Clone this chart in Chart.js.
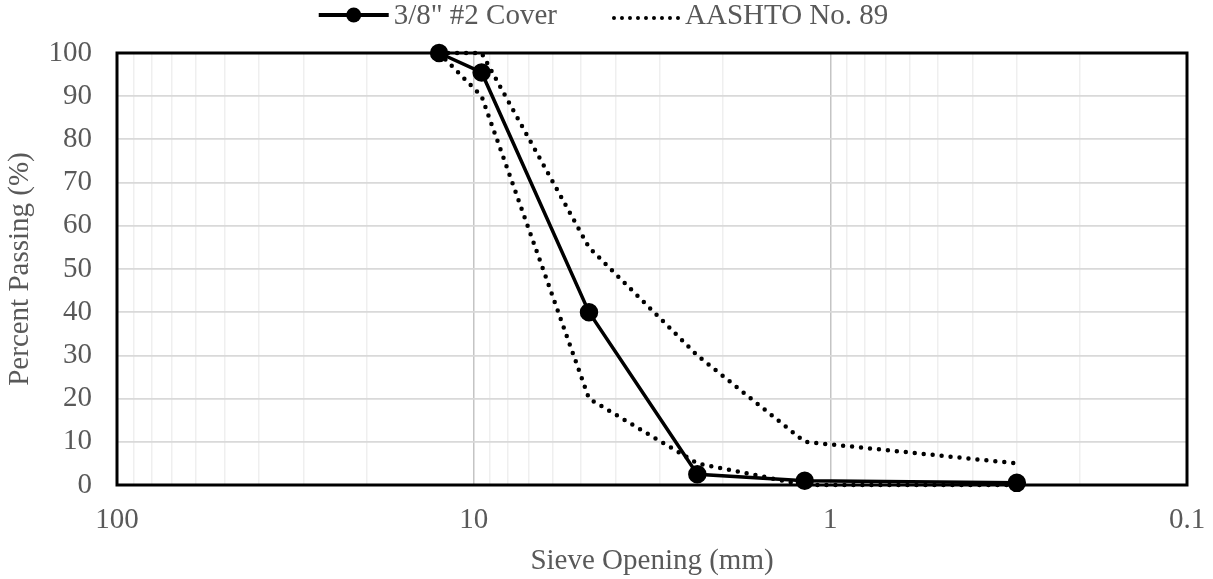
<!DOCTYPE html>
<html>
<head>
<meta charset="utf-8">
<script src="https://cdn.jsdelivr.net/npm/chart.js@4.4.1/dist/chart.umd.min.js"></script>
<style>
html,body{margin:0;padding:0;background:#fff}
#wrap{width:1213px;height:579px}
</style>
</head>
<body>
<div id="wrap"><canvas id="grading" width="1213" height="579"></canvas></div>
<script>
// sieve sizes (mm) and percent passing
const sieveSizes = [12.5, 9.5, 4.75, 2.36, 1.18, 0.3]
const coverPassing = [100, 95.5, 40, 2.5, 1, 0.5]
const specUpper = [100, 100, 55, 30, 10, 5]
const specLower = [100, 90, 20, 5, 0, 0]
const xTickLabels = [100, 10, 1, 0.1]
const yTickLabels = [0, 10, 20, 30, 40, 50, 60, 70, 80, 90, 100]
const legendNames = ["3/8\" #2 Cover", "AASHTO No. 89"]

const textColor = "#595959"
const serif = "'Liberation Serif', 'Times New Roman', serif"
const fontSize = 29

function pts(ys)
{
return sieveSizes.map((x,i)=>({x:x,y:ys[i]}))
}

const isMajor=v=>xTickLabels.some(t=>Math.abs(t-v)<1e-9)

// frame round the plot area
const frame={
id:"frame",
beforeDatasetsDraw(chart)
{
const a=chart.chartArea
const ctx=chart.ctx
ctx.save()
ctx.strokeStyle="#000"
ctx.lineWidth=3
ctx.strokeRect(a.left,a.top,a.right-a.left,a.bottom-a.top)
ctx.restore()
}
}

// legend row across the top: solid line with dot, then dotted line
const legendRow={
id:"legendRow",
afterDraw(chart)
{
const ctx=chart.ctx
ctx.save()
ctx.font=fontSize+"px "+serif
const w1=ctx.measureText(legendNames[0]).width
const w2=ctx.measureText(legendNames[1]).width
const total=70+5+w1+55+70+3+w2
let x=chart.width/2-total/2-3
const y=15

ctx.strokeStyle="#000"
ctx.fillStyle="#000"
ctx.lineWidth=4
ctx.beginPath()
ctx.moveTo(x,y)
ctx.lineTo(x+70,y)
ctx.stroke()
ctx.beginPath()
ctx.arc(x+35,y,7.5,0,Math.PI*2)
ctx.fill()

ctx.fillStyle=textColor
ctx.textBaseline="middle"
ctx.fillText(legendNames[0],x+75,y+1)

x+=75+w1+55
ctx.lineWidth=4
ctx.lineCap="round"
ctx.setLineDash([0,8])
ctx.beginPath()
ctx.moveTo(x+2,y+3)
ctx.lineTo(x+70,y+3)
ctx.stroke()
ctx.setLineDash([])

ctx.fillText(legendNames[1],x+73,y+1)
ctx.restore()
}
}

const dotted={
borderColor:"#000",
borderWidth:4.5,
borderDash:[0,9],
borderCapStyle:"round",
pointRadius:0,
fill:false,
tension:0,
clip:false
}

new Chart(document.getElementById("grading"),
{
type:"line",
data:
{
datasets:[
{
label:legendNames[0],
data:pts(coverPassing),
borderColor:"#000",
backgroundColor:"#000",
borderWidth:3.5,
pointRadius:7.5,
pointHoverRadius:7.5,
pointBackgroundColor:"#000",
pointBorderColor:"#000",
tension:0,
clip:false
},
Object.assign({label:legendNames[1],data:pts(specUpper)},dotted),
Object.assign({label:legendNames[1],data:pts(specLower)},dotted)
]
},
options:
{
responsive:false,
animation:false,
layout:{padding:{left:0,right:26,top:53,bottom:0}},
plugins:
{
tooltip:{enabled:false},
legend:{display:false}
},
scales:
{
x:
{
type:"logarithmic",
reverse:true,
min:0.1,
max:100,
afterBuildTicks(scale)
{
let t=[]
for(let d of [0.1,1,10])
{
for(let k=1;k<10;k++) t.push({value:d*k})
}
t.push({value:100})
scale.ticks=t
},
afterFit(scale)
{
scale.height=94
},
ticks:
{
autoSkip:false,
maxRotation:0,
color:textColor,
font:{family:serif,size:fontSize},
padding:18,
callback:v=>isMajor(v)?String(xTickLabels.find(t=>Math.abs(t-v)<1e-9)):""
},
grid:
{
drawTicks:false,
color:ctx=>isMajor(ctx.tick.value)?"#c4c4c4":"#efefef",
lineWidth:1.5
},
border:{display:false},
title:
{
display:true,
text:"Sieve Opening (mm)",
color:textColor,
font:{family:serif,size:fontSize},
padding:{top:7,bottom:0}
}
},
y:
{
min:0,
max:100,
afterBuildTicks(scale)
{
scale.ticks=yTickLabels.map(v=>({value:v}))
},
afterFit(scale)
{
scale.width=117
},
ticks:
{
color:textColor,
font:{family:serif,size:fontSize},
padding:25
},
grid:
{
drawTicks:false,
color:"#d9d9d9",
lineWidth:1.8
},
border:{display:false},
title:
{
display:true,
text:"Percent Passing (%)",
color:textColor,
font:{family:serif,size:fontSize},
padding:{top:3,bottom:0}
}
}
}
},
plugins:[frame,legendRow]
})
</script>
</body>
</html>
